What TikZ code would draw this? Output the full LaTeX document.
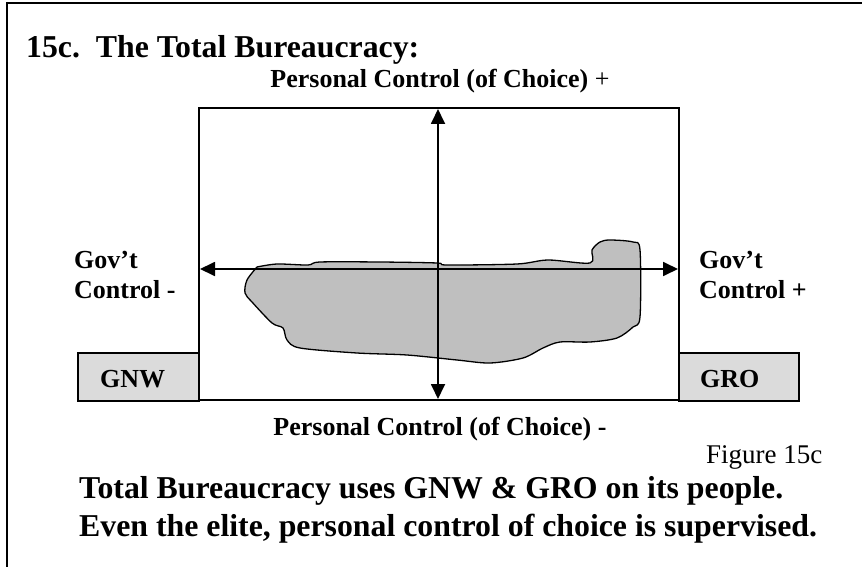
\documentclass[tikz,border=0pt]{standalone}
\usepackage{fontspec}
\setmainfont{Liberation Serif}
\usetikzlibrary{arrows.meta}
\tikzset{
  frameline/.style={line width=2pt},
  axis/.style={line width=1.8pt,{Triangle[length=15pt,width=14pt]}-{Triangle[length=15pt,width=14pt]}},
  sidebox/.style={draw,line width=1.8pt,fill=black!14,minimum height=48pt,inner sep=0pt},
  lbl/.style={font=\bfseries\fontsize{26}{30}\selectfont,inner sep=0pt,anchor=base west},
  big/.style={font=\bfseries\fontsize{31.8}{36}\selectfont,inner sep=0pt,anchor=base west},
}
\begin{document}
\begin{tikzpicture}[x=1pt,y=-1pt]
\useasboundingbox (0,0) rectangle (862,567);
% outer frame (top and left only)
\draw[frameline] (6,3) -- (862,3);
\draw[frameline] (7,2) -- (7,567);
% title
\node[big] (title) at (26,58) {15c.\ \ The Total Bureaucracy:};
% side boxes
\node[sidebox,minimum width=121pt] (gnw) at (138.5,377) {};
\node[sidebox,minimum width=120pt] (gro) at (739,377) {};
\node[lbl] (gnwt) at (100,387) {GNW};
\node[lbl] (grot) at (700,387) {GRO};
% main box
\node[draw,fill=white,line width=2pt,minimum width=480pt,minimum height=292pt,inner sep=0pt] (box) at (439,254) {};
% blob
\draw[line width=1.3pt,fill=black!25] plot[smooth, tension=0.5] coordinates {
 (257,267) (277,264) (308,265) (320,262) (380,262) (437,263) (447,265) (517,264) (548,260) (590,263)
 (592,250) (600,242) (610,240) (633,242) (640,250) (640,317) (633,327) (617,338) (590,342) (560,342)
 (543,348) (523,358) (490,363) (457,360) (407,355) (357,353) (300,348) (287,340) (283,328) (272,323)
 (252,302) (245,293) (247,280) (257,267)};
% axes
\coordinate (vt) at (438,109);
\coordinate (vb) at (438,399);
\coordinate (hl) at (200,269);
\coordinate (hr) at (678,269);
\draw[axis] (vt) -- (vb);
\draw[axis] (hl) -- (hr);
% labels
\node[lbl,anchor=base] (ptop) at (440,88) {Personal Control (of Choice) \textmd{+}};
\node[lbl,anchor=base] (pbot) at (440,435) {Personal Control (of Choice) -};
\node[lbl] (gl1) at (74,268) {Gov’t};
\node[lbl] (gl2) at (74,298) {Control -};
\node[lbl] (gr1) at (699,268) {Gov’t};
\node[lbl] (gr2) at (699,298) {Control +};
\node[font=\fontsize{27}{30}\selectfont,inner sep=0pt,anchor=base west] (fig) at (706,463) {Figure 15c};
\node[big] (b1) at (79,498) {Total Bureaucracy uses GNW \& GRO on its people.};
\node[big] (b2) at (79,536) {Even the elite, personal control of choice is supervised.};
\end{tikzpicture}
\end{document}
